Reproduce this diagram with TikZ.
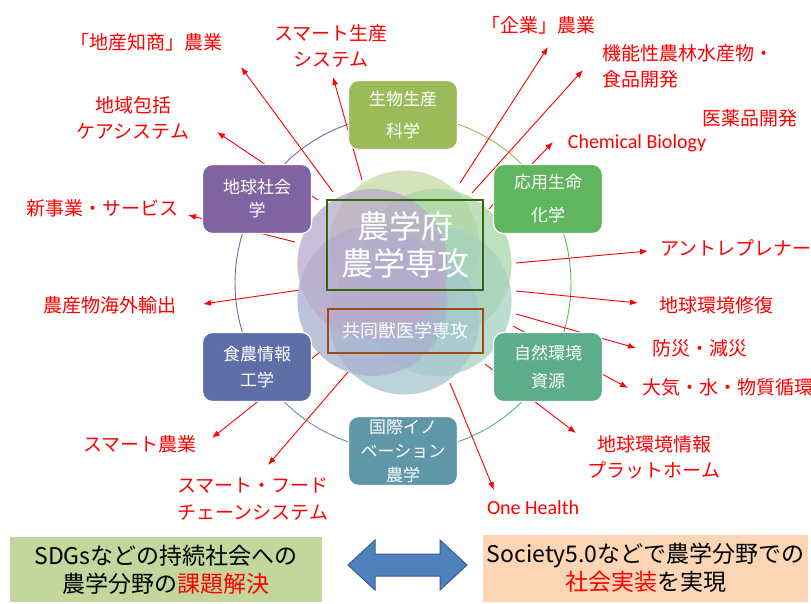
\documentclass[tikz,border=0pt]{standalone}
\usepackage{fontspec}
\setmainfont{Noto Sans CJK JP}
\newfontfamily\latfont{Carlito}
\usetikzlibrary{arrows.meta}
\definecolor{cOlive}{RGB}{155,187,89}
\definecolor{cGreen}{RGB}{96,181,95}
\definecolor{cTealG}{RGB}{91,173,140}
\definecolor{cTealB}{RGB}{95,150,168}
\definecolor{cBlueP}{RGB}{96,110,168}
\definecolor{cPurple}{RGB}{128,100,162}
\definecolor{cRed}{RGB}{255,0,0}
\definecolor{cDarkG}{RGB}{55,100,15}
\definecolor{cBrown}{RGB}{160,75,20}
\definecolor{cArrowF}{RGB}{79,129,189}
\definecolor{cArrowD}{RGB}{56,93,138}
\definecolor{cLeftBox}{RGB}{195,214,155}
\definecolor{cRightBox}{RGB}{252,213,181}
\tikzset{
  unitbox/.style={draw=white, line width=1.2pt, rounded corners=10pt, minimum width=109pt, minimum height=69pt, align=center, text=white, inner sep=0pt, font=\fontsize{17}{28}\selectfont},
  lbl/.style={text=cRed, align=center, inner sep=0pt, font=\fontsize{19}{26.5}\selectfont},
  latlbl/.style={text=cRed, inner sep=0pt, font=\latfont\fontsize{20}{24}\selectfont},
  outarrow/.style={draw=cRed, line width=0.9pt, -{Latex[length=8pt,width=6pt]}},
  blob/.style={fill opacity=0.75},
  ringarc/.style={line width=0.9pt},
  bottombox/.style={inner sep=0pt, align=center, text=black, font=\fontsize{23}{28}\selectfont},
}
\begin{document}
\begin{tikzpicture}[x=1pt,y=-1pt]
\useasboundingbox (0,0) rectangle (811,603);
\fill[white] (0,0) rectangle (811,603);

% ring
\coordinate (rc) at (403,283);
\draw[cOlive, ringarc] (rc) ++(-90:168) arc[start angle=-90, end angle=-30, radius=168];
\draw[cGreen, ringarc] (rc) ++(-30:168) arc[start angle=-30, end angle=30, radius=168];
\draw[cTealG, ringarc] (rc) ++(30:168) arc[start angle=30, end angle=90, radius=168];
\draw[cTealB, ringarc] (rc) ++(90:168) arc[start angle=90, end angle=150, radius=168];
\draw[cBlueP, ringarc] (rc) ++(150:168) arc[start angle=150, end angle=210, radius=168];
\draw[cPurple, ringarc] (rc) ++(210:168) arc[start angle=210, end angle=270, radius=168];

% arrow end points
\coordinate (t1) at (333,192); \coordinate (h1) at (241,67);
\coordinate (t2) at (362,180); \coordinate (h2) at (333,77);
\coordinate (t3) at (318,200); \coordinate (h3) at (217,132);
\coordinate (t4) at (295,242); \coordinate (h4) at (188,215);
\coordinate (t5) at (300,290); \coordinate (h5) at (203,304);
\coordinate (t6) at (320,352); \coordinate (h6) at (212,438);
\coordinate (t7) at (348,372); \coordinate (h7) at (268,465);
\coordinate (t8) at (450,383); \coordinate (h8) at (494,490);
\coordinate (t9) at (485,364); \coordinate (h9) at (576,433);
\coordinate (t10) at (513,326); \coordinate (h10) at (628,388);
\coordinate (t11) at (516,314); \coordinate (h11) at (636,348);
\coordinate (t12) at (516,291); \coordinate (h12) at (638,303);
\coordinate (t13) at (516,263); \coordinate (h13) at (648,251);
\coordinate (t14) at (489,209); \coordinate (h14) at (553,142);
\coordinate (t15) at (472,193); \coordinate (h15) at (583,70);
\coordinate (t16) at (460,183); \coordinate (h16) at (548,47);
\foreach \i in {1,...,16} { \draw[outarrow] (t\i) -- (h\i); }

% central blobs
\coordinate (ctr) at (404.5,282.5);
\fill[cOlive!55!white, blob] (ctr) ++(-90:37) circle[radius=75];
\fill[cGreen!55!white, blob] (ctr) ++(-30:37) circle[radius=75];
\fill[cTealG!55!white, blob] (ctr) ++(30:37) circle[radius=75];
\fill[cTealB!55!white, blob] (ctr) ++(90:37) circle[radius=75];
\fill[cBlueP!55!white, blob] (ctr) ++(150:37) circle[radius=75];
\fill[cPurple!55!white, blob] (ctr) ++(210:37) circle[radius=75];

% central frames
\node[draw=cDarkG, line width=2.2pt, minimum width=156pt, minimum height=90pt, inner sep=0pt, align=center, text=white, font=\fontsize{32}{37}\selectfont] (main) at (405,245) {農学府\\農学専攻};
\node[draw=cBrown, line width=2pt, minimum width=155pt, minimum height=44pt, inner sep=0pt, text=white, font=\fontsize{18}{22}\selectfont] (vet) at (405.5,331) {共同獣医学専攻};

% unit boxes
\node[unitbox, fill=cOlive, font=\fontsize{17}{32}\selectfont] (bio) at (403,115) {生物生産\\科学};
\node[unitbox, fill=cGreen, font=\fontsize{17}{33}\selectfont] (app) at (548,199) {応用生命\\化学};
\node[unitbox, fill=cTealG, font=\fontsize{17}{28}\selectfont] (nat) at (548,367) {自然環境\\資源};
\node[unitbox, fill=cTealB, font=\fontsize{17}{24}\selectfont] (intl) at (403,451) {国際イノ\\ベーション\\農学};
\node[unitbox, fill=cBlueP, font=\fontsize{17}{26}\selectfont] (food) at (257,367) {食農情報\\工学};
\node[unitbox, fill=cPurple, font=\fontsize{17}{23}\selectfont] (geo) at (257,199) {地球社会\\学};

% labels
\node[lbl] (l1) at (146,42) {「地産知商」農業};
\node[lbl] (l2) at (331,46) {スマート生産\\システム};
\node[lbl] (l3) at (133,118) {地域包括\\ケアシステム};
\node[lbl] (l4) at (102,208) {新事業・サービス};
\node[lbl] (l5) at (110,305) {農産物海外輸出};
\node[lbl] (l6) at (140,444) {スマート農業};
\node[lbl] (l7) at (253,499) {スマート・フード\\チェーンシステム};
\node[latlbl] (l8) at (533,508) {One Health};
\node[lbl] (l9) at (654,457) {地球環境情報\\プラットホーム};
\node[lbl, anchor=west] (l10) at (642,387) {大気・水・物質循環};
\node[lbl] (l11) at (700,348) {防災・減災};
\node[lbl] (l12) at (716,305) {地球環境修復};
\node[lbl, anchor=west] (l13) at (660,248) {アントレプレナー};
\node[latlbl] (l14) at (637,143) {Chemical Biology};
\node[lbl] (l15) at (750,118) {医薬品開発};
\node[lbl, align=left, anchor=west] (l16) at (602,66.5) {機能性農林水産物・\\食品開発};
\node[lbl] (l17) at (538,25) {「企業」農業};

% bottom boxes
\fill[cLeftBox] (10,537) rectangle (322,602);
\node[bottombox] (sdg) at (166,570) {SDGsなどの持続社会への\\農学分野の\textcolor{cRed}{課題解決}};
\fill[cRightBox] (483,535) rectangle (808,602);
\node[bottombox] (soc) at (645.5,568) {Society5.0などで農学分野での\\\textcolor{cRed}{社会実装}を実現};

% double arrow
\filldraw[fill=cArrowF, draw=cArrowD, line width=1pt] (348,565) -- (375,540) -- (375,554) -- (440,554) -- (440,540) -- (467,565) -- (440,590) -- (440,576) -- (375,576) -- (375,590) -- cycle;
\end{tikzpicture}
\end{document}
